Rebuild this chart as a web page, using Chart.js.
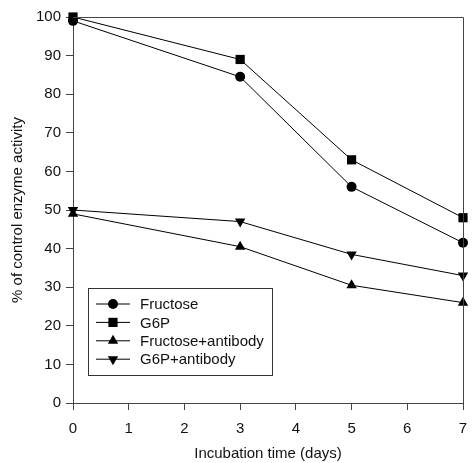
<!DOCTYPE html>
<html>
<head>
<meta charset="utf-8">
<script src="https://cdn.jsdelivr.net/npm/chart.js@4"></script>
<style>
  html, body { margin: 0; padding: 0; background: #fff; }
  #wrap { width: 472px; height: 463px; }
</style>
</head>
<body>
<div id="wrap"><canvas id="activity-chart" width="472" height="463"></canvas></div>
<script>
// Incubation days and % of control enzyme activity per treatment
const days = [0, 3, 5, 7];
const fructose = [99, 84.5, 56, 41.5];
const g6p = [100, 89, 63, 48];
const fructoseAntibody = [49, 40.5, 30.5, 26];
const g6pAntibody = [50, 47, 38.5, 33];
const yTicks = [0, 10, 20, 30, 40, 50, 60, 70, 80, 90, 100];
const xTicks = [0, 1, 2, 3, 4, 5, 6, 7];

const FONT = 'Liberation Sans, Arial, sans-serif';
const SIZE = 15;

function series(label, values, style, radius, rotation) {
    return {
        label: label,
        data: days.map((d, i) => ({ x: d, y: values[i] })),
        borderColor: '#000',
        backgroundColor: '#000',
        borderWidth: 1,
        pointStyle: style,
        pointRadius: radius,
        pointRotation: rotation || 0,
        pointBorderWidth: 0,
        tension: 0,
        clip: false
    };
}

// Frame around the plot area plus a boxed legend in the lower left
const framePlugin = {
    id: 'frame',
    afterDatasetsDraw(chart) {
        const { ctx, chartArea: a } = chart;
        ctx.save();
        ctx.strokeStyle = '#444';
        ctx.lineWidth = 1;
        ctx.beginPath();
        ctx.moveTo(a.left, a.top + 0.5);
        ctx.lineTo(a.right + 0.5, a.top + 0.5);
        ctx.lineTo(a.right + 0.5, a.bottom);
        ctx.stroke();

        // legend
        const bx = 88.5, by = 288.5, bw = 184, bh = 87;
        ctx.fillStyle = '#fff';
        ctx.fillRect(bx, by, bw, bh);
        ctx.strokeStyle = '#333';
        ctx.strokeRect(bx, by, bw, bh);
        ctx.font = SIZE + 'px ' + FONT;
        ctx.textBaseline = 'middle';
        chart.data.datasets.forEach((ds, i) => {
            const y = 304 + i * 18.4;
            ctx.strokeStyle = '#000';
            ctx.beginPath();
            ctx.moveTo(96, y);
            ctx.lineTo(130, y);
            ctx.stroke();
            ctx.fillStyle = '#000';
            Chart.helpers.drawPoint(ctx, {
                pointStyle: ds.pointStyle,
                radius: ds.pointRadius,
                rotation: ds.pointRotation,
                borderWidth: 0
            }, 113, y);
            ctx.fillStyle = '#111';
            ctx.fillText(ds.label, 140, y + 1);
        });
        ctx.restore();
    }
};

new Chart(document.getElementById('activity-chart'), {
    type: 'line',
    data: {
        datasets: [
            series('Fructose', fructose, 'circle', 5),
            series('G6P', g6p, 'rect', 6.5),
            series('Fructose+antibody', fructoseAntibody, 'triangle', 6),
            series('G6P+antibody', g6pAntibody, 'triangle', 6, 180)
        ]
    },
    options: {
        responsive: false,
        animation: false,
        layout: { padding: { top: 17, right: 9, left: 0, bottom: 0 } },
        plugins: { legend: { display: false }, tooltip: { enabled: false } },
        scales: {
            x: {
                type: 'linear',
                min: 0,
                max: 7,
                afterBuildTicks: axis => { axis.ticks = xTicks.map(v => ({ value: v })); },
                afterFit: axis => {
                    axis.height = 60;
                    axis.paddingLeft = 0;
                    axis.paddingRight = 0;
                },
                border: { color: '#444', width: 1 },
                grid: { drawOnChartArea: false, tickLength: 7, color: '#444' },
                ticks: { color: '#111', font: { family: FONT, size: SIZE }, padding: 10, maxRotation: 0 },
                title: {
                    display: true,
                    text: 'Incubation time (days)',
                    color: '#111',
                    font: { family: FONT, size: SIZE },
                    padding: { top: 2, bottom: 0 }
                }
            },
            y: {
                min: 0,
                max: 100,
                afterBuildTicks: axis => { axis.ticks = yTicks.map(v => ({ value: v })); },
                afterFit: axis => {
                    axis.width = 73;
                    axis.paddingTop = 0;
                    axis.paddingBottom = 0;
                },
                border: { color: '#444', width: 1 },
                grid: { drawOnChartArea: false, tickLength: 7, color: '#444' },
                ticks: { color: '#111', font: { family: FONT, size: SIZE }, padding: 5 },
                title: {
                    display: true,
                    text: '% of control enzyme activity',
                    color: '#111',
                    font: { family: FONT, size: SIZE },
                    padding: { top: 9, bottom: 0 }
                }
            }
        }
    },
    plugins: [framePlugin]
});
</script>
</body>
</html>
